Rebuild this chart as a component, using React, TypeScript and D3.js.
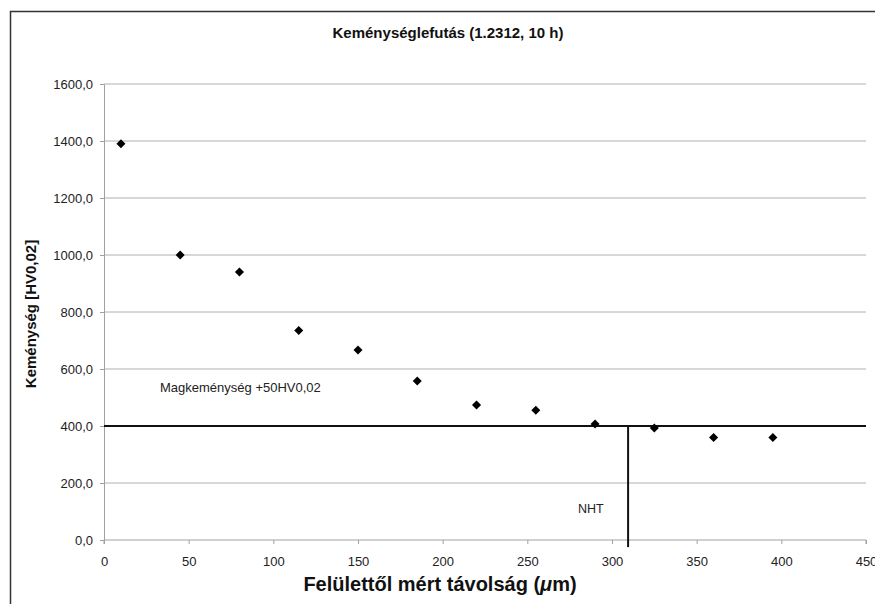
import * as d3 from "d3";
import { useEffect, useRef } from "react";

const distances = [10, 45, 80, 115, 150, 185, 220, 255, 290, 325, 360, 395];
const hardness = [1390, 1000, 940, 735, 667, 558, 474, 455, 407, 393, 360, 360];
const yTicks = [0, 200, 400, 600, 800, 1000, 1200, 1400, 1600];
const xTicks = [0, 50, 100, 150, 200, 250, 300, 350, 400, 450];
const coreLimit = 400;
const nhtDistance = 309.5;

const App = () => {
    const svgRef = useRef<SVGSVGElement>(null);

    useEffect(() => {
        const svg = d3.select(svgRef.current);
        const width = 875;
        const height = 604;
        const margin = { top: 84, right: 8, bottom: 64, left: 104 };

        svg.selectAll("*").remove();
        svg.style("font-family", "Liberation Sans, Arial, sans-serif");

        svg.append("rect").attr("width", width).attr("height", height).attr("fill", "#fff");

        // outer frame (only top and left visible)
        svg.append("path")
            .attr("d", `M10.5,${height} V11.5 H${width}`)
            .attr("fill", "none")
            .attr("stroke", "#333")
            .attr("stroke-width", 1.5);

        const x = d3.scaleLinear().domain([0, 450]).range([margin.left, width - margin.right - 1]);
        const y = d3.scaleLinear().domain([0, 1600]).range([height - margin.bottom, margin.top]);

        // grid
        svg.append("g")
            .selectAll("line")
            .data(yTicks.filter(d => d > 0))
            .join("line")
            .attr("x1", x(0))
            .attr("x2", x(450))
            .attr("y1", d => y(d))
            .attr("y2", d => y(d))
            .attr("stroke", "#b0b0b0")
            .attr("stroke-width", 1);

        const yAxis = svg.append("g")
            .attr("transform", `translate(${x(0)},0)`)
            .call(d3.axisLeft(y).tickValues(yTicks).tickSize(4).tickPadding(7)
                .tickFormat(d => d3.format(".1f")(d as number).replace(".", ",")));
        yAxis.selectAll("path, line").attr("stroke", "#a0a0a0");
        yAxis.selectAll("text").attr("font-size", 13).attr("fill", "#222").attr("font-family", null);

        const xAxis = svg.append("g")
            .attr("transform", `translate(0,${y(0)})`)
            .call(d3.axisBottom(x).tickValues(xTicks).tickSize(4).tickPadding(13).tickFormat(d3.format("d")));
        xAxis.selectAll("path, line").attr("stroke", "#a0a0a0");
        xAxis.select("path").attr("d", `M${x(0)},4V0H${x(450)}V4`);
        xAxis.selectAll("text").attr("font-size", 13).attr("fill", "#222").attr("font-family", null);

        // core hardness + 50 line and NHT line
        svg.append("line")
            .attr("x1", x(0))
            .attr("x2", x(450))
            .attr("y1", y(coreLimit))
            .attr("y2", y(coreLimit))
            .attr("stroke", "#111")
            .attr("stroke-width", 2);

        svg.append("line")
            .attr("x1", x(nhtDistance))
            .attr("x2", x(nhtDistance))
            .attr("y1", y(coreLimit))
            .attr("y2", y(-25))
            .attr("stroke", "#111")
            .attr("stroke-width", 2);

        svg.append("text")
            .attr("x", 160)
            .attr("y", y(coreLimit) - 34)
            .attr("font-size", 13)
            .attr("fill", "#222")
            .text("Magkeménység +50HV0,02");

        svg.append("text")
            .attr("x", 578)
            .attr("y", 513)
            .attr("font-size", 12.5)
            .attr("fill", "#222")
            .text("NHT");

        // points
        const diamond = d3.symbol().type(d3.symbolDiamond2).size(52);
        svg.append("g")
            .selectAll("path")
            .data(distances.map((d, i) => [d, hardness[i]]))
            .join("path")
            .attr("transform", d => `translate(${x(d[0])},${y(d[1])})`)
            .attr("d", diamond)
            .attr("fill", "#000");

        svg.append("text")
            .attr("x", 448)
            .attr("y", 38)
            .attr("text-anchor", "middle")
            .attr("font-size", 15)
            .attr("font-weight", "bold")
            .attr("fill", "#111")
            .text("Keménységlefutás (1.2312, 10 h)");

        svg.append("text")
            .attr("transform", `translate(36,314) rotate(-90)`)
            .attr("text-anchor", "middle")
            .attr("font-size", 15)
            .attr("font-weight", "bold")
            .attr("fill", "#111")
            .text("Keménység [HV0,02]");

        const xTitle = svg.append("text")
            .attr("x", 440)
            .attr("y", 591)
            .attr("text-anchor", "middle")
            .attr("font-size", 20)
            .attr("font-weight", "bold")
            .attr("fill", "#111");
        xTitle.append("tspan").text("Felülettől mért távolság (");
        xTitle.append("tspan").attr("font-style", "italic").text("μ");
        xTitle.append("tspan").text("m)");
    }, []);

    return (
        <svg ref={svgRef} width={875} height={604}
            style={{ position: "absolute", left: 0, top: 0, display: "block" }} />
    );
};

export default App;
